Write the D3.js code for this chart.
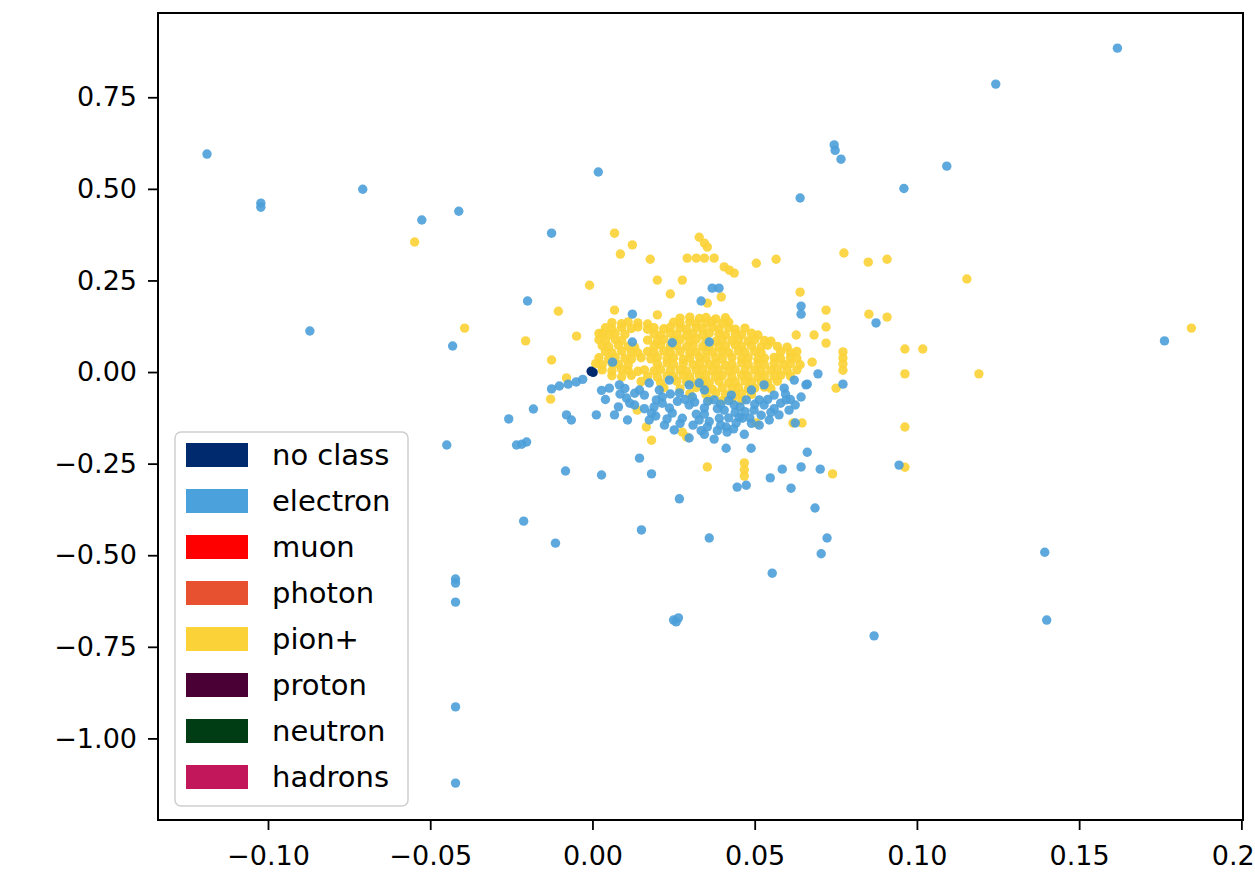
<!DOCTYPE html>
<html>
<head>
<meta charset="utf-8">
<script src="https://cdn.jsdelivr.net/npm/d3@7"></script>
<style>
  body { margin: 0; background: #ffffff; }
  svg { display: block; }
  text { font-family: "DejaVu Sans", sans-serif; fill: #000; }
</style>
</head>
<body>
<svg id="chart" width="1255" height="875"></svg>
<script>
// ---- axis ticks ----
const xTicks = [-0.10, -0.05, 0.00, 0.05, 0.10, 0.15, 0.20];
const yTicks = [0.75, 0.50, 0.25, 0.00, -0.25, -0.50, -0.75, -1.00];

// ---- legend classes ----
const classNames = ["no class", "electron", "muon", "photon", "pion+", "proton", "neutron", "hadrons"];
const classColors = ["#002a6e", "#4ba1dc", "#ff0000", "#e8512f", "#fbd338", "#4a0034", "#003d14", "#c2185b"];

// ---- points per class ----
const noClassPts = [[-0.0004, 0.002], [0.0002, -0.001]];

const electronPts = [
  [-0.1188, 0.595], [-0.1022, 0.461], [-0.1022, 0.450], [-0.0708, 0.499], [-0.0871, 0.112],
  [-0.0526, 0.415], [-0.0412, 0.439], [-0.0126, 0.379], [0.0018, 0.546], [-0.0200, 0.194],
  [-0.0431, 0.071], [-0.0449, -0.199], [-0.0422, -0.565], [-0.0422, -0.576], [-0.0422, -0.628],
  [-0.0422, -0.914], [-0.0422, -1.122], [-0.0212, -0.407], [-0.0114, -0.467], [-0.0083, -0.270],
  [0.0028, -0.281], [0.0151, -0.431], [0.0182, -0.278], [0.0268, -0.346], [0.0360, -0.453],
  [0.0250, -0.677], [0.0265, -0.671], [0.0258, -0.682], [0.0554, -0.549], [0.0705, -0.496],
  [0.0723, -0.453], [0.0686, -0.371], [0.0868, -0.720], [0.1394, -0.492], [0.1400, -0.677],
  [0.0945, -0.254], [0.1763, 0.085], [0.1618, 0.884], [0.1243, 0.786], [0.0745, 0.620],
  [0.0748, 0.605], [0.0766, 0.581], [0.1092, 0.562], [0.0960, 0.501], [0.0640, 0.475],
  [0.0874, 0.134], [0.0643, 0.180], [0.0643, 0.158], [0.0695, -0.005], [0.0772, -0.033],
  [0.0643, -0.068], [0.0123, 0.158], [0.0369, 0.229], [0.0390, 0.229], [0.0335, 0.194],
  [-0.0258, -0.128], [-0.0182, -0.101], [-0.0234, -0.199], [-0.0218, -0.197], [-0.0203, -0.191],
  [-0.0126, -0.046], [-0.0102, -0.038], [-0.0075, -0.033], [-0.0050, -0.027], [-0.0030, -0.020],
  [-0.0080, -0.117], [-0.0065, -0.131], [0.0012, -0.117], [0.0068, -0.117],
  [0.0028, -0.050], [0.0105, -0.071], [0.0145, -0.049], [0.0182, -0.112], [0.0145, -0.235],
  [0.0197, -0.076], [0.0237, -0.098], [0.0246, -0.112], [0.0277, -0.126], [0.0308, -0.068],
  [0.0329, -0.131], [0.0354, -0.150], [0.0391, -0.126], [0.0415, -0.164], [0.0443, -0.139],
  [0.0462, -0.126], [0.0412, -0.150], [0.0452, -0.123], [0.0474, -0.076], [0.0514, -0.076],
  [0.0597, -0.076], [0.0662, -0.033], [0.0658, -0.035],
  [0.0412, -0.208], [0.0489, -0.208], [0.0662, -0.219], [0.0643, -0.259], [0.0585, -0.265],
  [0.0548, -0.289], [0.0612, -0.317], [0.0702, -0.265], [0.0446, -0.314], [0.0474, -0.309],
  [0.0083, -0.035], [0.0052, -0.044], [0.0160, -0.063], [0.0206, -0.049], [0.0268, -0.057],
  [0.0298, -0.090], [0.0345, -0.098], [0.0375, -0.076], [0.0406, -0.104], [0.0437, -0.090],
  [0.0498, -0.104], [0.0529, -0.090], [0.0560, -0.063], [0.0298, -0.035], [0.0345, -0.049],
  [0.0222, -0.145], [0.0252, -0.158], [0.0298, -0.180], [0.0345, -0.170], [0.0375, -0.183],
  [0.0468, -0.170], [0.0514, -0.145], [0.0545, -0.131], [0.0575, -0.117], [0.0606, -0.104],
  [0.0175, -0.131], [0.0108, -0.131], [0.0329, -0.030], [0.0237, -0.022], [0.0175, -0.030],
  [0.0490, -0.049], [0.0428, -0.063], [0.0529, -0.035], [0.0591, -0.044], [0.0622, -0.022],
  [0.0625, -0.139], [0.0115, -0.085], [0.0190, -0.095], [0.0262, -0.080], [0.0320, -0.115],
  [0.0385, -0.100], [0.0440, -0.110], [0.0485, -0.125], [0.0395, -0.145], [0.0360, -0.135],
  [0.0270, -0.140], [0.0560, -0.100], [0.0580, -0.085], [0.0625, -0.090], [0.0085, -0.060],
  [0.0040, -0.075],
  [0.0100, -0.045], [0.0130, -0.058], [0.0215, -0.068], [0.0240, -0.060], [0.0285, -0.075],
  [0.0315, -0.082], [0.0355, -0.080], [0.0395, -0.088], [0.0420, -0.078], [0.0455, -0.095],
  [0.0470, -0.108], [0.0500, -0.088], [0.0540, -0.075], [0.0550, -0.110], [0.0595, -0.060],
  [0.0610, -0.075], [0.0195, -0.120], [0.0230, -0.128], [0.0310, -0.145], [0.0335, -0.160],
  [0.0420, -0.125], [0.0435, -0.155], [0.0490, -0.140], [0.0520, -0.118], [0.0160, -0.100],
  [0.0130, -0.090], [0.0080, -0.095], [0.0215, -0.085], [0.0345, -0.115], [0.0385, -0.160],
  [0.0123, 0.082], [0.0246, 0.080], [0.0360, 0.082], [0.0062, 0.027]
];

// scattered pion+ hits around the core
const pionOuter = [
  [-0.0548, 0.355], [-0.0394, 0.120], [-0.0105, 0.166], [-0.0206, 0.085], [-0.0049, 0.098],
  [-0.0009, 0.237], [-0.0126, 0.033], [-0.0129, -0.074], [-0.0080, -0.016], [0.0032, 0.106],
  [0.0068, 0.379], [0.0123, 0.347], [0.0086, 0.322], [0.0178, 0.308], [0.0292, 0.311],
  [0.0320, 0.311], [0.0345, 0.311], [0.0329, 0.368], [0.0345, 0.352], [0.0354, 0.341],
  [0.0200, 0.251], [0.0277, 0.251], [0.0240, 0.213], [0.0354, 0.188], [0.0068, 0.169],
  [0.0200, 0.156], [0.0375, 0.311], [0.0406, 0.287], [0.0422, 0.278], [0.0437, 0.270],
  [0.0505, 0.297], [0.0566, 0.308], [0.0397, 0.205], [0.0640, 0.218], [0.0720, 0.169],
  [0.0720, 0.123], [0.0720, 0.079], [0.0628, 0.101], [0.0683, 0.101], [0.0775, 0.325],
  [0.0850, 0.300], [0.0908, 0.308], [0.1154, 0.254], [0.0852, 0.158], [0.0908, 0.150],
  [0.0772, 0.055], [0.0772, 0.038], [0.0772, 0.022], [0.0772, 0.005], [0.0963, 0.063],
  [0.1018, 0.063], [0.0963, -0.005], [0.1191, -0.005], [0.0677, 0.027], [0.0751, -0.044],
  [0.0963, -0.150], [0.0963, -0.260], [0.0740, -0.278], [0.1846, 0.120], [0.0354, -0.259],
  [0.0468, -0.248], [0.0468, -0.267], [0.0468, -0.284], [0.0166, -0.150], [0.0182, -0.186],
  [0.0290, -0.177], [0.0277, -0.164], [0.0138, -0.104], [0.0505, -0.139], [0.0618, -0.139],
  [0.0646, -0.139]
];

// dense pion+ core
const pionCore = [
  [0.027, 0.147], [0.030, 0.150], [0.033, 0.146], [0.035, 0.149], [0.038, 0.145], [0.041, 0.148],
  [0.006, 0.135], [0.009, 0.132], [0.011, 0.137], [0.014, 0.134], [0.017, 0.131], [0.025, 0.136],
  [0.027, 0.133], [0.030, 0.137], [0.032, 0.132], [0.035, 0.135], [0.037, 0.138], [0.040, 0.133],
  [0.042, 0.136],
  [0.004, 0.121], [0.006, 0.118], [0.009, 0.122], [0.012, 0.119], [0.014, 0.123], [0.017, 0.117],
  [0.019, 0.121], [0.022, 0.118], [0.024, 0.122], [0.027, 0.120], [0.029, 0.117], [0.032, 0.121],
  [0.034, 0.119], [0.037, 0.122], [0.039, 0.118], [0.042, 0.121], [0.044, 0.117], [0.047, 0.120],
  [0.002, 0.105], [0.005, 0.102], [0.007, 0.106], [0.010, 0.103], [0.019, 0.104], [0.021, 0.101],
  [0.024, 0.106], [0.026, 0.103], [0.029, 0.100], [0.031, 0.105], [0.034, 0.102], [0.036, 0.106],
  [0.039, 0.103], [0.041, 0.101], [0.044, 0.105], [0.046, 0.102], [0.049, 0.106], [0.051, 0.101],
  [0.002, 0.088], [0.004, 0.085], [0.007, 0.089], [0.009, 0.086], [0.017, 0.087], [0.020, 0.084],
  [0.022, 0.089], [0.025, 0.086], [0.027, 0.088], [0.030, 0.085], [0.032, 0.090], [0.035, 0.087],
  [0.038, 0.084], [0.040, 0.088], [0.043, 0.086], [0.045, 0.089], [0.048, 0.085], [0.050, 0.088],
  [0.053, 0.086], [0.055, 0.084],
  [0.003, 0.072], [0.005, 0.069], [0.008, 0.073], [0.011, 0.070], [0.013, 0.068], [0.019, 0.071],
  [0.021, 0.074], [0.024, 0.070], [0.026, 0.072], [0.029, 0.069], [0.031, 0.073], [0.034, 0.070],
  [0.036, 0.072], [0.039, 0.068], [0.041, 0.071], [0.044, 0.074], [0.046, 0.070], [0.049, 0.072],
  [0.052, 0.069], [0.054, 0.073], [0.057, 0.070], [0.060, 0.068],
  [0.004, 0.056], [0.006, 0.053], [0.009, 0.057], [0.012, 0.054], [0.014, 0.052], [0.017, 0.056],
  [0.019, 0.053], [0.022, 0.057], [0.024, 0.054], [0.027, 0.056], [0.030, 0.052], [0.032, 0.055],
  [0.035, 0.058], [0.037, 0.054], [0.040, 0.056], [0.042, 0.053], [0.045, 0.057], [0.047, 0.054],
  [0.050, 0.056], [0.052, 0.052], [0.058, 0.055], [0.061, 0.053], [0.063, 0.056],
  [0.002, 0.039], [0.005, 0.036], [0.007, 0.040], [0.010, 0.037], [0.012, 0.035], [0.015, 0.039],
  [0.018, 0.036], [0.020, 0.040], [0.023, 0.037], [0.025, 0.039], [0.028, 0.035], [0.030, 0.038],
  [0.033, 0.041], [0.035, 0.037], [0.038, 0.039], [0.040, 0.036], [0.043, 0.040], [0.046, 0.037],
  [0.048, 0.039], [0.051, 0.035], [0.053, 0.038], [0.056, 0.040], [0.058, 0.036], [0.061, 0.039],
  [0.063, 0.037],
  [0.001, 0.023], [0.003, 0.020], [0.006, 0.024], [0.008, 0.021], [0.011, 0.019], [0.020, 0.022],
  [0.023, 0.025], [0.025, 0.021], [0.028, 0.023], [0.031, 0.020], [0.033, 0.024], [0.036, 0.021],
  [0.038, 0.023], [0.041, 0.019], [0.043, 0.022], [0.046, 0.025], [0.048, 0.021], [0.051, 0.023],
  [0.053, 0.020], [0.056, 0.024], [0.059, 0.021], [0.061, 0.023], [0.064, 0.020],
  [0.003, 0.006], [0.006, 0.003], [0.009, 0.007], [0.011, 0.004], [0.014, 0.002], [0.016, 0.006],
  [0.019, 0.003], [0.021, 0.007], [0.024, 0.004], [0.027, 0.006], [0.029, 0.002], [0.032, 0.005],
  [0.034, 0.008], [0.037, 0.004], [0.039, 0.006], [0.042, 0.003], [0.044, 0.007], [0.047, 0.004],
  [0.050, 0.006], [0.052, 0.002], [0.055, 0.005], [0.057, 0.008], [0.060, 0.004], [0.063, 0.006],
  [0.006, -0.010], [0.009, -0.013], [0.012, -0.009], [0.017, -0.012], [0.020, -0.014], [0.023, -0.010],
  [0.025, -0.012], [0.028, -0.009], [0.030, -0.013], [0.033, -0.011], [0.035, -0.008], [0.038, -0.012],
  [0.040, -0.010], [0.043, -0.013], [0.046, -0.009], [0.048, -0.011], [0.051, -0.014], [0.053, -0.010],
  [0.056, -0.012], [0.058, -0.009], [0.061, -0.011],
  [0.015, -0.026], [0.021, -0.029], [0.026, -0.025], [0.029, -0.028], [0.031, -0.030], [0.034, -0.026],
  [0.036, -0.028], [0.039, -0.025], [0.042, -0.029], [0.044, -0.027], [0.047, -0.024], [0.049, -0.028],
  [0.052, -0.026], [0.054, -0.029], [0.057, -0.025],
  [0.022, -0.043], [0.027, -0.046], [0.032, -0.042], [0.035, -0.045], [0.037, -0.047], [0.040, -0.043],
  [0.043, -0.045], [0.045, -0.042], [0.048, -0.046], [0.050, -0.044], [0.053, -0.041], [0.055, -0.045],
  [0.030, -0.059], [0.035, -0.062], [0.038, -0.058], [0.041, -0.061], [0.044, -0.063], [0.046, -0.059],
  [0.049, -0.061],
  [0.036, -0.075], [0.040, -0.078], [0.043, -0.074], [0.046, -0.077]
];

// ---- layout ----
const plot = { left: 158, right: 1243, top: 13, bottom: 820 };
const dotR = 4.7;

const svg = d3.select("#chart");

const x = d3.scaleLinear().domain([-0.1339, 0.2005]).range([plot.left, plot.right]);
const y = d3.scaleLinear().domain([0.980, -1.2227]).range([plot.top, plot.bottom]);

const fmt = d3.format(".2f");

// clip the markers to the axes area
svg.append("defs").append("clipPath").attr("id", "plotClip")
  .append("rect")
  .attr("x", plot.left).attr("y", plot.top)
  .attr("width", plot.right - plot.left).attr("height", plot.bottom - plot.top);

const marks = svg.append("g").attr("clip-path", "url(#plotClip)");

function drawPoints(data, color, opacity) {
  marks.append("g")
    .selectAll("circle")
    .data(data)
    .join("circle")
    .attr("cx", d => x(d[0]))
    .attr("cy", d => y(d[1]))
    .attr("r", dotR)
    .attr("fill", color)
    .attr("fill-opacity", opacity);
}

drawPoints(pionOuter, classColors[4], 0.92);
drawPoints(pionCore, classColors[4], 0.95);
drawPoints(electronPts, "#4b9fd8", 0.9);
drawPoints(noClassPts, classColors[0], 1);

// ---- axes ----
const xAxis = svg.append("g")
  .attr("transform", `translate(0,${plot.bottom})`)
  .call(d3.axisBottom(x).tickValues(xTicks).tickFormat(fmt).tickSize(10).tickPadding(16));

const yAxis = svg.append("g")
  .attr("transform", `translate(${plot.left},0)`)
  .call(d3.axisLeft(y).tickValues(yTicks).tickFormat(fmt).tickSize(10).tickPadding(11));

[xAxis, yAxis].forEach(g => {
  g.select(".domain").remove();
  g.selectAll(".tick line").attr("stroke", "#000").attr("stroke-width", 1.8);
  g.selectAll(".tick text")
    .attr("fill", "#000")
    .style("font-family", "'DejaVu Sans', sans-serif")
    .style("font-size", "27px");
});

// axes frame
svg.append("rect")
  .attr("x", plot.left).attr("y", plot.top)
  .attr("width", plot.right - plot.left).attr("height", plot.bottom - plot.top)
  .attr("fill", "none").attr("stroke", "#000").attr("stroke-width", 2);

// ---- legend ----
const legend = svg.append("g").attr("transform", "translate(175,432)");
const rowGap = 46;

legend.append("rect")
  .attr("x", 0).attr("y", 0)
  .attr("width", 233).attr("height", 374)
  .attr("rx", 6).attr("ry", 6)
  .attr("fill", "#ffffff").attr("fill-opacity", 0.85)
  .attr("stroke", "#cfcfcf").attr("stroke-width", 1.5);

const rows = legend.selectAll("g.entry")
  .data(classNames)
  .join("g")
  .attr("class", "entry")
  .attr("transform", (d, i) => `translate(11,${11 + i * rowGap})`);

rows.append("rect")
  .attr("x", 0).attr("y", 0)
  .attr("width", 62).attr("height", 24)
  .attr("fill", (d, i) => classColors[i]);

rows.append("text")
  .attr("x", 86).attr("y", 12)
  .attr("dy", "0.36em")
  .style("font-size", "29px")
  .text(d => d);
</script>
</body>
</html>
